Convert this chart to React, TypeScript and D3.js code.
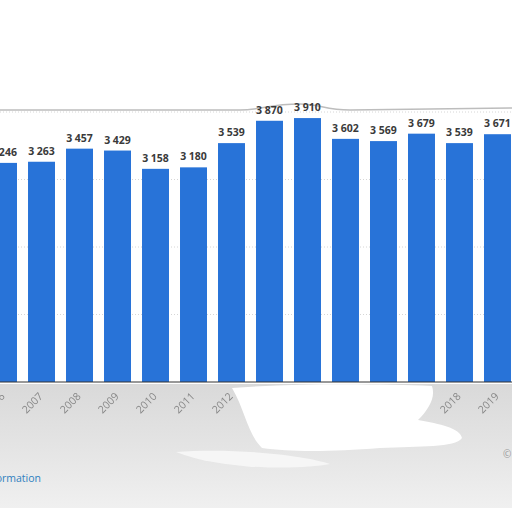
import * as d3 from 'd3';

const years = ['2006', '2007', '2008', '2009', '2010', '2011', '2012', '2013', '2014', '2015', '2016', '2017', '2018', '2019'];
const values = [3246, 3263, 3457, 3429, 3158, 3180, 3539, 3870, 3910, 3602, 3569, 3679, 3539, 3671];
const yTicks = [0, 1000, 2000, 3000, 4000];

const fmt = (v: number) => d3.format(',')(v).replace(/,/g, ' ');

export default function App() {
  const width = 512;
  const height = 512;
  const baseline = 382;
  const plotTop = 112;

  const x = d3.scaleBand().domain(years).range([-21, 522]).padding(0.29);
  const y = d3.scaleLinear().domain([0, 4000]).range([baseline, plotTop]);

  return (
    <svg
      width={width}
      height={height}
      viewBox={`0 0 ${width} ${height}`}
      style={{ position: 'absolute', left: 0, top: 0, background: '#fff' }}
      fontFamily="'Open Sans', 'DejaVu Sans', sans-serif"
    >
      <defs>
        <linearGradient id="under" x1="0" y1="0" x2="0" y2="1">
          <stop offset="0" stopColor="#d9d9d9" />
          <stop offset="0.5" stopColor="#e4e4e4" />
          <stop offset="1" stopColor="#f0f0f0" />
        </linearGradient>
        <filter id="soft">
          <feGaussianBlur stdDeviation="0.5" />
        </filter>
      </defs>

      {/* blurred area under the axis */}
      <rect x={0} y={baseline + 2} width={width} height={124} fill="url(#under)" />

      {/* card top edge */}
      <path
        d={`M0,${plotTop - 2} L240,${plotTop - 2} C260,${plotTop - 2} 270,${plotTop - 8} 300,${plotTop - 8} C320,${plotTop - 8} 325,${plotTop - 2} 350,${plotTop - 2} L512,${plotTop - 4}`}
        fill="none"
        stroke="#bdbdbd"
        strokeWidth={1.5}
      />

      {/* gridlines */}
      {yTicks.slice(1).map((t) => (
        <line
          key={t}
          x1={0}
          x2={width}
          y1={y(t)}
          y2={y(t)}
          stroke="#d6d6d6"
          strokeDasharray="1 2"
        />
      ))}

      {/* bars */}
      {years.map((yr, i) => (
        <g key={yr}>
          <rect
            x={x(yr)}
            y={y(values[i])}
            width={x.bandwidth()}
            height={baseline - y(values[i])}
            fill="#2873d8"
          />
          <text
            x={(x(yr) as number) + x.bandwidth() / 2}
            y={y(values[i]) - 7}
            textAnchor="middle"
            fontSize={10.5}
            fontWeight={700}
            fill="#3a3a3a"
          >
            {fmt(values[i])}
          </text>
        </g>
      ))}

      {/* axis line */}
      <line x1={0} x2={width} y1={baseline} y2={baseline} stroke="#333" strokeWidth={1} />

      {/* x tick labels */}
      <g filter="url(#soft)">
        {years.map((yr) => {
          const cx = (x(yr) as number) + x.bandwidth() / 2 + 2;
          const cy = baseline + 15;
          return (
            <text
              key={yr}
              x={cx}
              y={cy}
              transform={`rotate(-45 ${cx} ${cy})`}
              textAnchor="end"
              fontSize={10.5}
              fill="#888"
            >
              {yr}
            </text>
          );
        })}
      </g>

      {/* white smear over part of the axis labels */}
      <path
        d="M232,388 C300,383 380,384 432,386 C436,398 428,410 418,420 C440,424 460,428 462,438 C455,448 420,446 380,448 C330,452 290,452 262,448 C248,435 245,410 232,388 Z"
        fill="#ffffff"
      />
      <path d="M176,452 C230,448 300,454 330,464 C300,470 220,470 176,452 Z" fill="#f6f6f6" />

      <text x={41} y={482} textAnchor="end" fontSize={10.5} fill="#2f80c0">
        Additional Information
      </text>
      <text x={503} y={458} fontSize={10} fill="#9a9a9a">
        ©
      </text>
    </svg>
  );
}
